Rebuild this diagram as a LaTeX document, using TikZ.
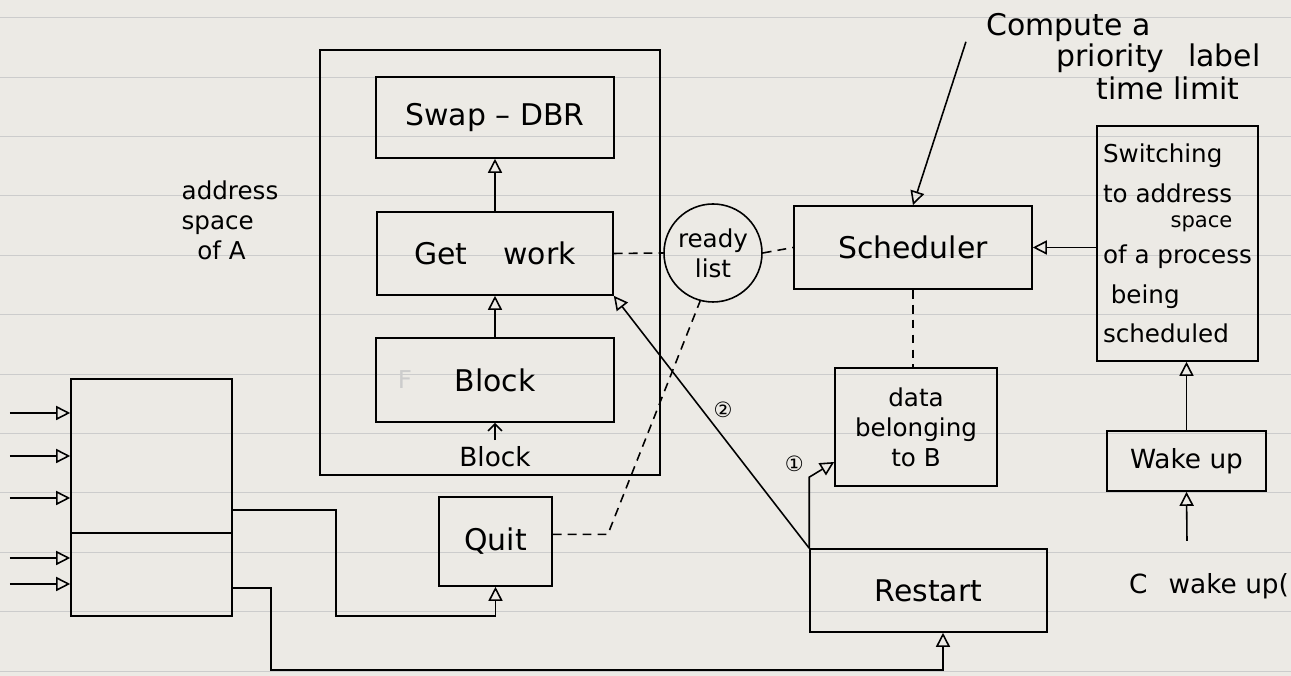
\documentclass[tikz,border=0pt]{standalone}
\usepackage{fontspec}
\setmainfont{DejaVu Sans}
\usetikzlibrary{arrows.meta,positioning}
\definecolor{paper}{RGB}{236,234,229}

\begin{document}
\begin{tikzpicture}[line width=0.9pt,
    >={Triangle[open,length=8pt,width=8pt]},
    box/.style={draw,inner sep=2pt,font=\fontsize{17}{20}\selectfont},
    note/.style={align=left,font=\fontsize{14}{17}\selectfont},
    link/.style={dash pattern=on 5pt off 3.5pt},
    rule/.style={gray!40,line width=0.5pt}]
      \fill[paper] (0,0) rectangle (25.82,13.52);
      \useasboundingbox (0,0) rectangle (25.82,13.52);
      \foreach \j in {0,...,11}
        \draw[rule] (0,0.1+1.188*\j) -- (25.82,0.1+1.188*\j);

      \node[draw,line width=0.6pt,minimum width=6.8cm,minimum height=8.5cm] (spaceA) at (9.8,8.27) {};
      \node[note] (lblA) at (4.6,9.12) {address\\space\\\ \ of A};

      \node[box,minimum width=4.76cm,minimum height=1.62cm] (swap) at (9.9,11.17) {Swap – DBR};
      \node[box,minimum width=4.72cm,minimum height=1.66cm] (getwork) at (9.9,8.45) {Get\hspace{1.2em}work};
      \node[box,minimum width=4.76cm,minimum height=1.68cm] (block) at (9.9,5.92) {Block};
      \node[gray!40,font=\fontsize{14}{17}\selectfont] (erased) at (8.1,5.92) {F};
      \node[font=\fontsize{15}{18}\selectfont] (blocklbl) at (9.9,4.38) {Block};

      \node[draw,circle,minimum size=1.96cm,inner sep=0pt,note,align=center] (ready) at (14.26,8.46) {ready\\list};
      \node[box,minimum width=4.76cm,minimum height=1.66cm] (sched) at (18.26,8.57) {Scheduler};
      \node[box,minimum width=3.24cm,minimum height=2.36cm,note,align=center] (data) at (18.32,4.98) {data\\belonging\\to B};
      \node[box,minimum width=4.74cm,minimum height=1.66cm] (restart) at (18.57,1.71) {Restart};
      \node[box,minimum width=2.26cm,minimum height=1.78cm] (quit) at (9.91,2.69) {Quit};
      \node[draw,minimum width=3.22cm,minimum height=4.74cm] (inbox) at (3.03,3.57) {};

      \node[box,minimum width=3.22cm,minimum height=4.7cm,align=left,font=\fontsize{14}{22.5}\selectfont] (switch) at (23.55,8.65)
        {Switching\\to address\\[-8pt]\hspace*{1.35cm}{\fontsize{12}{14}\selectfont space}\\[-2pt]of a process\\\ being\\scheduled};
      \node[box,minimum width=3.18cm,minimum height=1.2cm,font=\fontsize{15}{18}\selectfont] (wakeup) at (23.73,4.3) {Wake up};
      \node[anchor=west,font=\fontsize{15}{18}\selectfont] (wakeC) at (22.45,1.8) {C\hspace{0.8em}wake up(};
      \coordinate (wakein) at (23.74,2.7);

      \node[anchor=west,font=\fontsize{17}{20}\selectfont] (compute) at (19.6,12.96) {Compute a};
      \node[anchor=west,font=\fontsize{17}{20}\selectfont] (prio) at (21.0,12.36) {priority\hspace{0.8em}label};
      \node[anchor=west,font=\fontsize{17}{20}\selectfont] (tlimit) at (21.8,11.76) {time limit};

      \draw[->] (getwork.north) -- (swap.south);
      \draw[->] (block.north) -- (getwork.south);
      \draw[-{Straight Barb[length=4pt]}] (blocklbl.north) -- (block.south);
      \draw[link] (getwork.east) -- (ready.west);
      \draw[link] (ready.east) -- (sched.west);
      \draw[link] (sched.south) -- (sched.south |- data.north);
      \draw[link] ([yshift=4pt]quit.east) -- ++(1.1,0) coordinate (qbend) -- (ready.255);
      \draw[->] ([xshift=-8pt,yshift=4pt]compute.south west) -- (sched.north);
      \draw[->] (switch.west |- sched.east) -- (sched.east);
      \draw[->] (wakeup.north) -- (wakeup.north |- switch.south);
      \draw[->] (wakein) -- (wakeup.south);
      \draw[->] (restart.north west) -- (getwork.south east)
        node[pos=0.55,right=3pt,font=\fontsize{12}{14}\selectfont] (two) {②};
      \draw[->] (restart.north west) -- ++(0,1.42) coordinate (bend1) -- ([yshift=-0.7cm]data.west);
      \node[above left=-1pt,font=\fontsize{12}{14}\selectfont] (one) at (bend1) {①};

      \foreach \yy [count=\i] in {5.26,4.4,3.56,2.36,1.84} {
        \coordinate (in\i) at (0.2,\yy);
        \draw[->] (in\i) -- (in\i -| inbox.west);
      }
      \draw (inbox.west |- 0,2.86) -- (inbox.east |- 0,2.86);
      \draw[->] (inbox.east |- 0,3.32) -| (6.72,1.2) -| (quit.south);
      \draw[->] (inbox.east |- 0,1.76) -| (5.42,0.12) -| ([xshift=0.29cm]restart.south);
    \end{tikzpicture}
\end{document}
